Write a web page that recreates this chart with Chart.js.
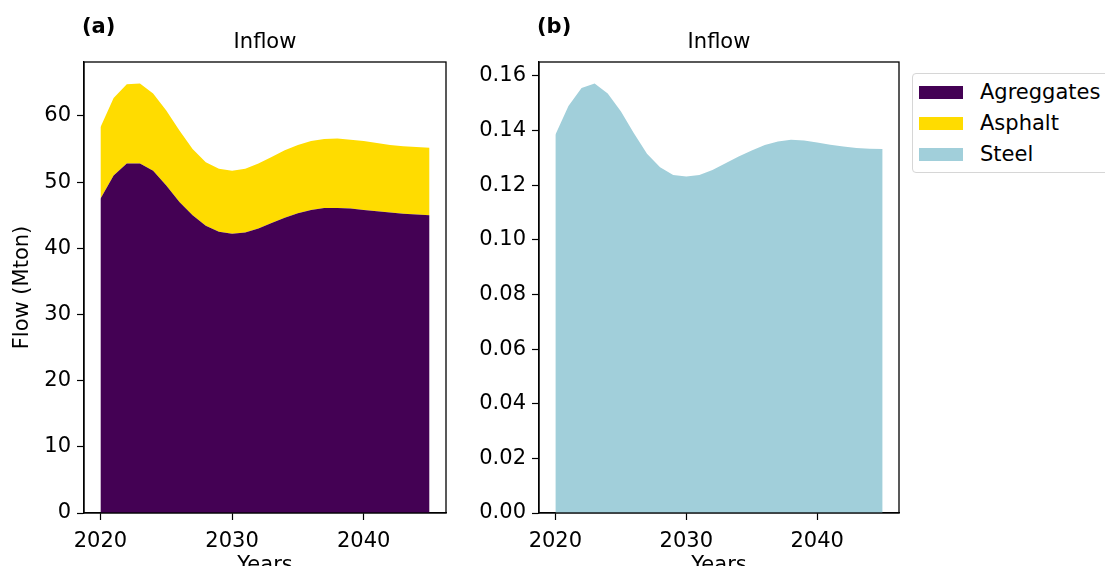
<!DOCTYPE html>
<html>
<head>
<meta charset="utf-8">
<script src="https://cdn.jsdelivr.net/npm/chart.js@4.4.1/dist/chart.umd.min.js"></script>
<style>
  body { margin: 0; width: 1105px; height: 566px; overflow: hidden; background: #fff; position: relative; font-family: "DejaVu Sans", sans-serif; }
  canvas { position: absolute; top: 0; }
  #legend { position: absolute; left: 912px; top: 73px; width: 215px; height: 100px; border: 1px solid #d6d6d6; border-radius: 4px; box-sizing: border-box; }
  .item { position: absolute; left: 6px; height: 30px; display: flex; align-items: center; font-size: 21px; color: #000; }
  .patch { width: 44px; height: 13px; margin-right: 17px; }
</style>
</head>
<body>
<canvas id="chartA" width="460" height="578" style="left:0px"></canvas>
<canvas id="chartB" width="452" height="578" style="left:460px"></canvas>
<div id="legend"></div>
<script>
document.addEventListener("DOMContentLoaded", function () {
    // Years on the x axis
    const years = [2020, 2021, 2022, 2023, 2024, 2025, 2026, 2027, 2028, 2029, 2030, 2031, 2032,
                   2033, 2034, 2035, 2036, 2037, 2038, 2039, 2040, 2041, 2042, 2043, 2044, 2045];

    // Inflow values (Mton)
    const aggregates = [47.5, 51.0, 52.8, 52.8, 51.7, 49.5, 47.0, 45.0, 43.4, 42.5, 42.2, 42.4, 43.0,
                        43.8, 44.6, 45.3, 45.8, 46.1, 46.1, 46.0, 45.8, 45.6, 45.4, 45.2, 45.1, 45.0];
    const asphalt = [10.8, 11.7, 12.0, 12.1, 11.7, 11.3, 10.8, 10.0, 9.6, 9.5, 9.5, 9.6, 9.8,
                     10.0, 10.2, 10.3, 10.4, 10.4, 10.5, 10.4, 10.4, 10.3, 10.2, 10.2, 10.2, 10.2];
    const steel = [0.1384, 0.149, 0.1555, 0.1572, 0.1535, 0.147, 0.139, 0.1315, 0.1265, 0.1237, 0.1232, 0.1237, 0.1255,
                   0.128, 0.1305, 0.1327, 0.1347, 0.136, 0.1366, 0.1363, 0.1356, 0.1348, 0.1341, 0.1336, 0.1333, 0.1332];

    const seriesNames = ['Agreggates', 'Asphalt', 'Steel'];
    const seriesColors = ['#440154', '#FFDC00', '#A1CFDA'];

    const xTicks = [2020, 2030, 2040];
    const yTicksA = [0, 10, 20, 30, 40, 50, 60];
    const yTicksB = [0, 0.02, 0.04, 0.06, 0.08, 0.10, 0.12, 0.14, 0.16];

    const FONT = { family: "'DejaVu Sans', sans-serif", size: 21 };

    // Stack the asphalt on top of the aggregates
    const asphaltTop = aggregates.map((v, i) => v + asphalt[i]);
    const toPoints = arr => arr.map((v, i) => ({ x: years[i], y: v }));

    // matplotlib-like 5% margins
    const xSpan = years[years.length - 1] - years[0];
    const xMin = years[0] - xSpan * 0.05;
    const xMax = years[years.length - 1] + xSpan * 0.05;
    const yMaxA = Math.max(...asphaltTop) * 1.05;
    const yMaxB = Math.max(...steel) * 1.05;

    // Box around the plot area and the panel titles
    const framePlugin = {
        id: 'frame',
        afterDraw(chart, args, opts) {
            const { ctx, chartArea } = chart;
            ctx.save();
            ctx.strokeStyle = '#000';
            ctx.lineWidth = 1.3;
            ctx.strokeRect(chartArea.left, chartArea.top, chartArea.right - chartArea.left, chartArea.bottom - chartArea.top);
            ctx.fillStyle = '#000';
            ctx.textBaseline = 'middle';
            ctx.textAlign = 'center';
            ctx.font = "21px 'DejaVu Sans', sans-serif";
            ctx.fillText(opts.title, (chartArea.left + chartArea.right) / 2, chartArea.top - 19);
            ctx.textAlign = 'left';
            ctx.font = "bold 21px 'DejaVu Sans', sans-serif";
            ctx.fillText(opts.label, chartArea.left - 2, chartArea.top - 34);
            ctx.restore();
        }
    };

    function xScale() {
        return {
            type: 'linear',
            min: xMin,
            max: xMax,
            afterBuildTicks: s => { s.ticks = xTicks.map(v => ({ value: v })); },
            afterFit: s => { s.height = 65; },
            grid: { drawOnChartArea: false, drawTicks: true, tickLength: 7, tickColor: '#000', tickWidth: 1.2 },
            border: { display: true, color: '#000', width: 1.3 },
            ticks: { color: '#000', font: FONT, padding: 9, maxRotation: 0, callback: v => String(v) },
            title: { display: true, text: 'Years', color: '#000', font: FONT, padding: { top: 0, bottom: 0 } }
        };
    }

    function yScale(max, tickList, width, fmt, title) {
        return {
            type: 'linear',
            min: 0,
            max: max,
            afterBuildTicks: s => { s.ticks = tickList.map(v => ({ value: v })); },
            afterFit: s => { s.width = width; },
            grid: { drawOnChartArea: false, drawTicks: true, tickLength: 7, tickColor: '#000', tickWidth: 1.2 },
            border: { display: true, color: '#000', width: 1.3 },
            ticks: { color: '#000', font: FONT, padding: 6, callback: fmt },
            title: { display: !!title, text: title || '', color: '#000', font: FONT, padding: { top: 10, bottom: 4 } }
        };
    }

    const commonPlugins = { legend: { display: false }, tooltip: { enabled: false } };

    // Panel (a): stacked area of aggregates and asphalt
    new Chart(document.getElementById('chartA').getContext('2d'), {
        type: 'line',
        data: {
            datasets: [{
                label: seriesNames[0],
                data: toPoints(aggregates),
                backgroundColor: seriesColors[0],
                borderWidth: 0,
                pointRadius: 0,
                tension: 0,
                fill: 'origin'
            }, {
                label: seriesNames[1],
                data: toPoints(asphaltTop),
                backgroundColor: seriesColors[1],
                borderWidth: 0,
                pointRadius: 0,
                tension: 0,
                fill: '-1'
            }]
        },
        options: {
            responsive: false,
            animation: false,
            layout: { padding: { left: 0, right: 14, top: 62, bottom: 0 } },
            scales: {
                x: xScale(),
                y: yScale(yMaxA, yTicksA, 84, v => String(v), 'Flow (Mton)')
            },
            plugins: Object.assign({ frame: { title: 'Inflow', label: '(a)' } }, commonPlugins)
        },
        plugins: [framePlugin]
    });

    // Panel (b): steel
    new Chart(document.getElementById('chartB').getContext('2d'), {
        type: 'line',
        data: {
            datasets: [{
                label: seriesNames[2],
                data: toPoints(steel),
                backgroundColor: seriesColors[2],
                borderWidth: 0,
                pointRadius: 0,
                tension: 0,
                fill: 'origin'
            }]
        },
        options: {
            responsive: false,
            animation: false,
            layout: { padding: { left: 0, right: 13, top: 62, bottom: 0 } },
            scales: {
                x: xScale(),
                y: yScale(yMaxB, yTicksB, 79, v => v.toFixed(2), null)
            },
            plugins: Object.assign({ frame: { title: 'Inflow', label: '(b)' } }, commonPlugins)
        },
        plugins: [framePlugin]
    });

    // Shared legend
    const legend = document.getElementById('legend');
    seriesNames.forEach((name, i) => {
        const item = document.createElement('div');
        item.className = 'item';
        item.style.top = (3 + i * 31) + 'px';
        item.innerHTML = '<span class="patch" style="background:' + seriesColors[i] + '"></span>' + name;
        legend.appendChild(item);
    });
});
</script>
</body>
</html>
